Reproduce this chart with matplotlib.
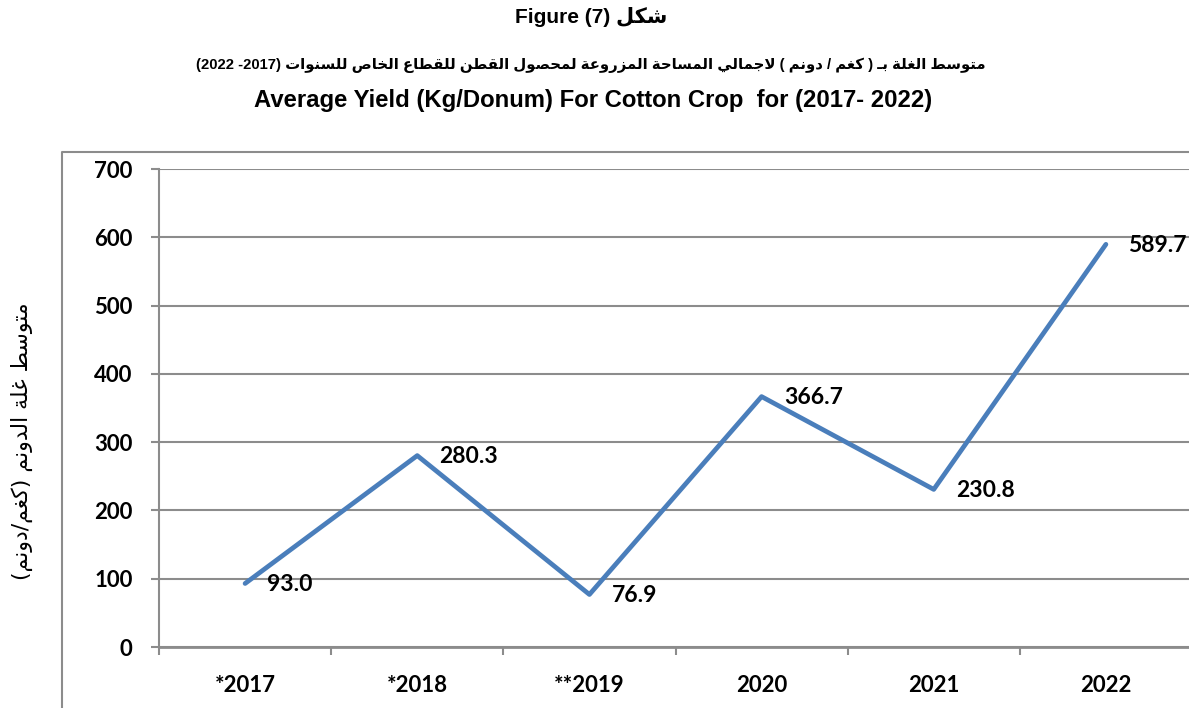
import re
import matplotlib
matplotlib.use("Agg")
import matplotlib.pyplot as plt
from matplotlib.lines import Line2D

# --- data ---
years = ["*2017", "*2018", "**2019", "2020", "2021", "2022"]
yield_kg = [93.0, 280.3, 76.9, 366.7, 230.8, 589.7]
yticks = [0, 100, 200, 300, 400, 500, 600, 700]

title_1 = "شكل (7) Figure"
title_2 = "متوسط الغلة بـ ( كغم / دونم ) لاجمالي المساحة المزروعة لمحصول القطن للقطاع الخاص للسنوات (2017- 2022)"
title_3 = "Average Yield (Kg/Donum) For Cotton Crop  for (2017- 2022)"
ylabel = "متوسط غلة الدونم (كغم/دونم)"

# --- minimal arabic shaping + rtl ordering (matplotlib does no text layout) ---
FORMS = {
    'ا': '\ufe8d\ufe8e', 'أ': '\ufe83\ufe84', 'إ': '\ufe87\ufe88', 'آ': '\ufe81\ufe82',
    'ب': '\ufe8f\ufe90\ufe91\ufe92', 'ة': '\ufe93\ufe94', 'ت': '\ufe95\ufe96\ufe97\ufe98',
    'ث': '\ufe99\ufe9a\ufe9b\ufe9c', 'ج': '\ufe9d\ufe9e\ufe9f\ufea0', 'ح': '\ufea1\ufea2\ufea3\ufea4',
    'خ': '\ufea5\ufea6\ufea7\ufea8', 'د': '\ufea9\ufeaa', 'ذ': '\ufeab\ufeac', 'ر': '\ufead\ufeae',
    'ز': '\ufeaf\ufeb0', 'س': '\ufeb1\ufeb2\ufeb3\ufeb4', 'ش': '\ufeb5\ufeb6\ufeb7\ufeb8',
    'ص': '\ufeb9\ufeba\ufebb\ufebc', 'ض': '\ufebd\ufebe\ufebf\ufec0', 'ط': '\ufec1\ufec2\ufec3\ufec4',
    'ظ': '\ufec5\ufec6\ufec7\ufec8', 'ع': '\ufec9\ufeca\ufecb\ufecc', 'غ': '\ufecd\ufece\ufecf\ufed0',
    'ف': '\ufed1\ufed2\ufed3\ufed4', 'ق': '\ufed5\ufed6\ufed7\ufed8', 'ك': '\ufed9\ufeda\ufedb\ufedc',
    'ل': '\ufedd\ufede\ufedf\ufee0', 'م': '\ufee1\ufee2\ufee3\ufee4', 'ن': '\ufee5\ufee6\ufee7\ufee8',
    'ه': '\ufee9\ufeea\ufeeb\ufeec', 'و': '\ufeed\ufeee', 'ى': '\ufeef\ufef0',
    'ي': '\ufef1\ufef2\ufef3\ufef4', 'ؤ': '\ufe85\ufe86', 'ئ': '\ufe89\ufe8a\ufe8b\ufe8c',
    '\u0640': '\u0640\u0640\u0640\u0640',
}
LAM_ALEF = {'ا': '\ufefb\ufefc', 'أ': '\ufef7\ufef8', 'إ': '\ufef9\ufefa', 'آ': '\ufef5\ufef6'}


def joins_next(c):
    return c in FORMS and len(FORMS[c]) == 4


def shape(s):
    out, i = [], 0
    while i < len(s):
        c = s[i]
        prev = s[i - 1] if i > 0 else ''
        nxt = s[i + 1] if i + 1 < len(s) else ''
        p = joins_next(prev)
        if c == 'ل' and nxt in LAM_ALEF:
            out.append(LAM_ALEF[nxt][1 if p else 0])
            i += 2
            continue
        if c not in FORMS:
            out.append(c)
            i += 1
            continue
        n = joins_next(c) and nxt in FORMS
        f = FORMS[c]
        out.append(f[3] if p and n else f[1] if p else f[2] if n else f[0])
        i += 1
    return ''.join(out)


def rtl(s):
    units = re.findall(r'[A-Za-z0-9.]+|.', shape(s))
    mirror = {'(': ')', ')': '('}
    return ''.join(mirror.get(u, u) for u in reversed(units))


# --- figure ---
GRAY = '#8c8c8c'
BLUE = '#4a7ebb'
W, H = 1189, 708
fig = plt.figure(figsize=(W / 100, H / 100), dpi=100)

# outer chart frame (only left/top edges visible in the crop)
fig.add_artist(Line2D([62 / W, 62 / W, 1.0], [0.0, 1 - 152 / H, 1 - 152 / H],
                      transform=fig.transFigure, color=GRAY, lw=1.5))

ax = fig.add_axes([159 / W, 1 - 647 / H, (1192 - 159) / W, (647 - 169) / H])
x = list(range(len(years)))
ax.plot(x, yield_kg, color=BLUE, lw=3.4, solid_capstyle='round', solid_joinstyle='round',
        zorder=3)

for xi, v in zip(x, yield_kg):
    ax.annotate(f"{v:.1f}", (xi, v), xytext=(16, -1), textcoords='offset points',
                ha='left', va='center', fontsize=16.5, fontweight='bold',
                family=['Lato', 'DejaVu Sans'], color='black', zorder=4)

ax.set_xlim(-0.5, len(years) - 0.5)
ax.set_ylim(0, 700)
ax.set_yticks(yticks)
ax.set_xticks(x)
ax.set_xticklabels(years)
ax.set_xticks([i - 0.5 for i in range(len(years) + 1)], minor=True)

ax.grid(axis='y', color=GRAY, lw=1.5)
ax.set_axisbelow(True)
for side in ('top', 'right'):
    ax.spines[side].set_visible(False)
for side in ('left', 'bottom'):
    ax.spines[side].set_color(GRAY)
ax.spines['left'].set_linewidth(1.5)
ax.spines['bottom'].set_linewidth(2)

ax.tick_params(axis='y', direction='out', length=6, width=1.5, color=GRAY, pad=13,
               labelsize=16)
ax.tick_params(axis='x', which='major', length=0, pad=20, labelsize=16)
ax.tick_params(axis='x', which='minor', direction='out', length=6, width=1.5, color=GRAY)
for lab in ax.get_xticklabels() + ax.get_yticklabels():
    lab.set_fontfamily(['Lato', 'DejaVu Sans'])
    lab.set_fontweight('bold')

# titles
fam = ['Liberation Sans', 'DejaVu Sans']
fig.text(0.497, 1 - 17 / H, rtl(title_1), ha='center', va='center', fontsize=15,
         fontweight='bold', family=fam)
fig.text(0.4965, 1 - 65 / H, rtl(title_2), ha='center', va='center', fontsize=10.7,
         fontweight='bold', family=fam)
fig.text(0.4985, 1 - 101 / H, title_3, ha='center', va='center', fontsize=17.2,
         fontweight='bold', family=fam)

fig.text(22 / W, 1 - 441 / H, rtl(ylabel), rotation=90, ha='center', va='center',
         fontsize=15.8, family=['DejaVu Sans'])

fig.savefig("out.png", dpi=100)
